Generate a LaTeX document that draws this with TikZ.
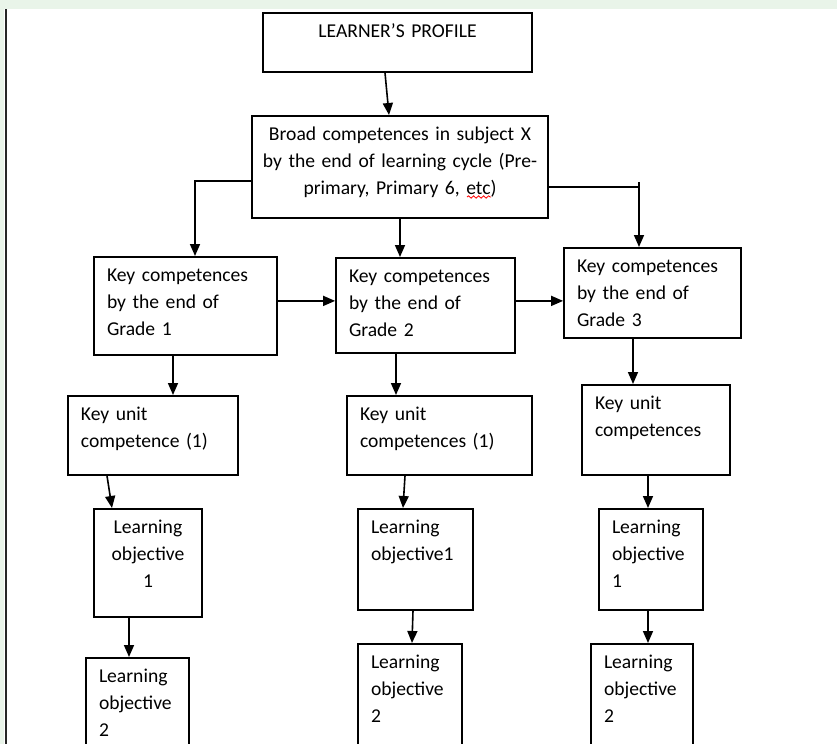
\documentclass[tikz,border=0pt]{standalone}
\usepackage{fontspec}
\setmainfont{Carlito}
\usetikzlibrary{arrows.meta,shapes,decorations.pathmorphing}
\definecolor{bandgreen}{RGB}{233,244,233}

\begin{document}
\begin{tikzpicture}[x=0.5pt,y=-0.5pt,
  nodes={draw,line width=0.9pt,anchor=north,inner xsep=6.5pt,inner ysep=2pt,
         text height=10.5pt,align=left,font=\fontsize{9.8}{13.5}\selectfont},
  link/.style={line width=0.8pt,-{Triangle[length=6pt,width=5pt]}}]
\useasboundingbox (0,0) rectangle (837,744);
\fill[bandgreen] (0,0) rectangle (837,9);
\fill[bandgreen] (0,9) rectangle (4,744);
\draw[line width=1.2pt,black!85] (6,9) -- (6,744);
% boxes
\node[text width=121.5pt,align=center,text depth=15pt] (profile) at (397.5,12) {LEARNER'S PROFILE};
\node[text width=148pt,inner xsep=0pt,align=center,text depth=36.5pt] (broad) at (400,115) {Broad competences in subject X\\by the end of learning cycle (Pre-\\primary, Primary 6, etc)};
\node[text width=78.5pt,text depth=34.5pt] (grade1) at (185.5,256) {Key competences\\by the end of\\Grade 1};
\node[text width=76.5pt,text depth=33pt] (grade2) at (425.5,257) {Key competences\\by the end of\\Grade 2};
\node[text width=75.5pt,text depth=30.5pt] (grade3) at (652.5,247) {Key competences\\by the end of\\Grade 3};
\node[text width=72pt,text depth=25pt] (unit1) at (153,395) {Key unit\\competence (1)};
\node[text width=79.5pt,text depth=25pt] (unit2) at (439.5,395) {Key unit\\competences (1)};
\node[text width=61pt,text depth=30.5pt] (unit3) at (656,384) {Key unit\\competences};
\node[text width=41pt,align=center,text depth=39.5pt] (obj1a) at (148,508) {Learning\\objective\\1};
\node[text width=44.5pt,text depth=36pt] (obj1b) at (415.5,508) {Learning\\objective1};
\node[text width=39pt,text depth=36pt] (obj1c) at (651,508) {Learning\\objective\\1};
\node[text width=38.5pt,text depth=50pt] (obj2a) at (137.5,657) {Learning\\objective\\2};
\node[text width=39pt,text depth=50pt] (obj2b) at (410,643) {Learning\\objective\\2};
\node[text width=38pt,text depth=50pt] (obj2c) at (642,643) {Learning\\objective\\2};
% arrows
\coordinate (t3) at (639,182);
\draw[link] ([xshift=-6.25pt]profile.south) -- ([xshift=-5.5pt]broad.north);
\draw[link] ([yshift=-7pt]broad.west) -| ([xshift=4.75pt]grade1.north);
\draw[link] (broad.south) -- ([xshift=-12.75pt]grade2.north);
\draw[link] ([yshift=-10pt]broad.east) -| ([xshift=-6.75pt]grade3.north);
\draw[line width=0.8pt] (t3) -- ++(0,5);
\draw[link] ([yshift=2.5pt]grade1.east) -- ([yshift=2.25pt]grade2.west);
\draw[link] ([yshift=2.25pt]grade2.east) -- ([yshift=-4pt]grade3.west);
\draw[link] ([xshift=-6.25pt]grade1.south) -- ([xshift=10pt]unit1.north);
\draw[link] ([xshift=-14.75pt]grade2.south) -- ([xshift=-21.75pt]unit2.north);
\draw[link] ([xshift=-9.75pt]grade3.south) -- ([xshift=-11.5pt]unit3.north);
\draw[link] ([xshift=-23pt]unit1.south) -- ([xshift=-18pt]obj1a.north);
\draw[link] ([xshift=-17.25pt]unit2.south) -- ([xshift=-6.25pt]obj1b.north);
\draw[link] ([xshift=-4pt]unit3.south) -- ([xshift=-1.5pt]obj1c.north);
\draw[link] ([xshift=-9.5pt]obj1a.south) -- ([xshift=-4.25pt]obj2a.north);
\draw[link] ([xshift=-1.25pt]obj1b.south) -- ([xshift=1pt]obj2b.north);
\draw[link] ([xshift=-1.5pt]obj1c.south) -- ([xshift=3pt]obj2c.north);
\draw[red,decorate,decoration={snake,amplitude=0.6pt,segment length=2.5pt}] (467,197) -- (491,197);
\end{tikzpicture}
\end{document}
